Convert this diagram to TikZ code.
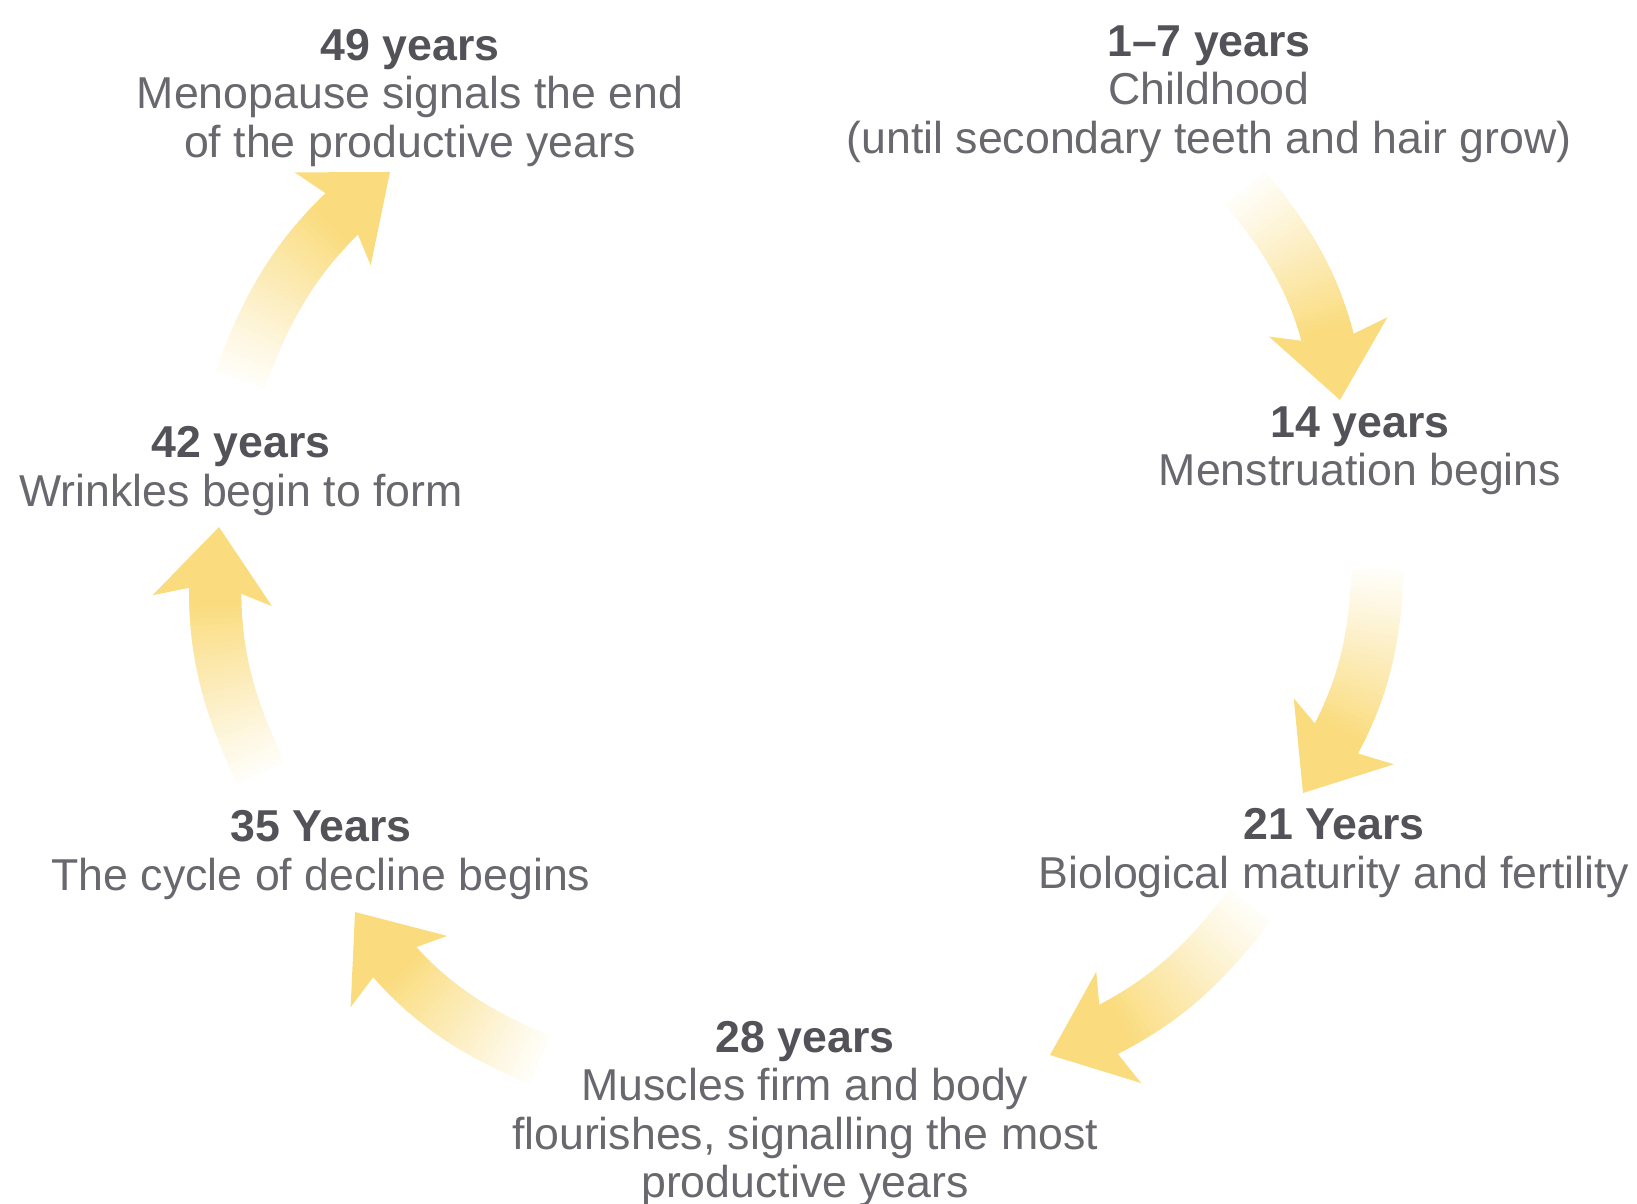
\documentclass[tikz,border=0pt]{standalone}
\usepackage{fontspec}
\setmainfont{Liberation Sans}
\usetikzlibrary{calc}
\definecolor{bodygray}{RGB}{104,104,110}
\definecolor{headgray}{RGB}{82,82,88}
\definecolor{arrowyellow}{RGB}{250,220,126}
\tikzset{
  stage/.style={align=center, text=bodygray, inner sep=0pt,
    font=\fontsize{12.7}{13.8}\selectfont},
  band/.style={line width=0.52cm},
  tipfill/.style={fill=arrowyellow}
}
\newcommand{\agetitle}[1]{\textbf{\color{headgray}#1}}
% faded curved arrow from a tail coordinate to a tip coordinate
\newcommand{\cyclearrow}[2]{%
  \foreach \k in {0,...,40}
    \path (#1) to[bend left=16] coordinate[pos=\k/40] (seg\k) (#2);
  \foreach \k in {0,...,31}{
    \pgfmathtruncatemacro{\tintval}{min(100,6+94*\k/28)}
    \pgfmathtruncatemacro{\segend}{\k+2}
    \draw[band, arrowyellow!\tintval!white] (seg\k) -- (seg\segend);
  }
  \fill[tipfill] (#2)
    -- ($(#2)!0.74cm!(seg36)!0.6cm!90:(#2)$)
    -- ($(#2)!0.56cm!(seg36)$)
    -- ($(#2)!0.74cm!(seg36)!0.6cm!-90:(#2)$) -- cycle;
}

\begin{document}
\begin{tikzpicture}[x=0.01cm, y=-0.01cm]
  \useasboundingbox (0,0) rectangle (1637,1204);
  % arrow ends
  \coordinate (t1) at (1245,188);  \coordinate (h1) at (1340,400);
  \coordinate (t2) at (1378,569);  \coordinate (h2) at (1303,793);
  \coordinate (t3) at (1250,905);  \coordinate (h3) at (1050,1055);
  \coordinate (t4) at (540,1060);  \coordinate (h4) at (355,912);
  \coordinate (t5) at (261,773);   \coordinate (h5) at (219,527);
  \coordinate (t6) at (240,380);   \coordinate (h6) at (390,172);
  \cyclearrow{t1}{h1}
  \cyclearrow{t2}{h2}
  \cyclearrow{t3}{h3}
  \cyclearrow{t4}{h4}
  \cyclearrow{t5}{h5}
  \cyclearrow{t6}{h6}
  % stages
  \node[stage] (s7)  at (1209,94)  {\agetitle{1--7 years}\\Childhood\\(until secondary teeth and hair grow)};
  \node[stage] (s14) at (1360,451) {\agetitle{14 years}\\Menstruation begins};
  \node[stage] (s21) at (1334,853) {\agetitle{21 Years}\\Biological maturity and fertility};
  \node[stage] (s28) at (805,1114) {\agetitle{28 years}\\Muscles firm and body\\flourishes, signalling the most\\productive years};
  \node[stage] (s35) at (321,855)  {\agetitle{35 Years}\\The cycle of decline begins};
  \node[stage] (s42) at (241,471)  {\agetitle{42 years}\\Wrinkles begin to form};
  \node[stage] (s49) at (410,98)   {\agetitle{49 years}\\Menopause signals the end\\of the productive years};
\end{tikzpicture}
\end{document}
